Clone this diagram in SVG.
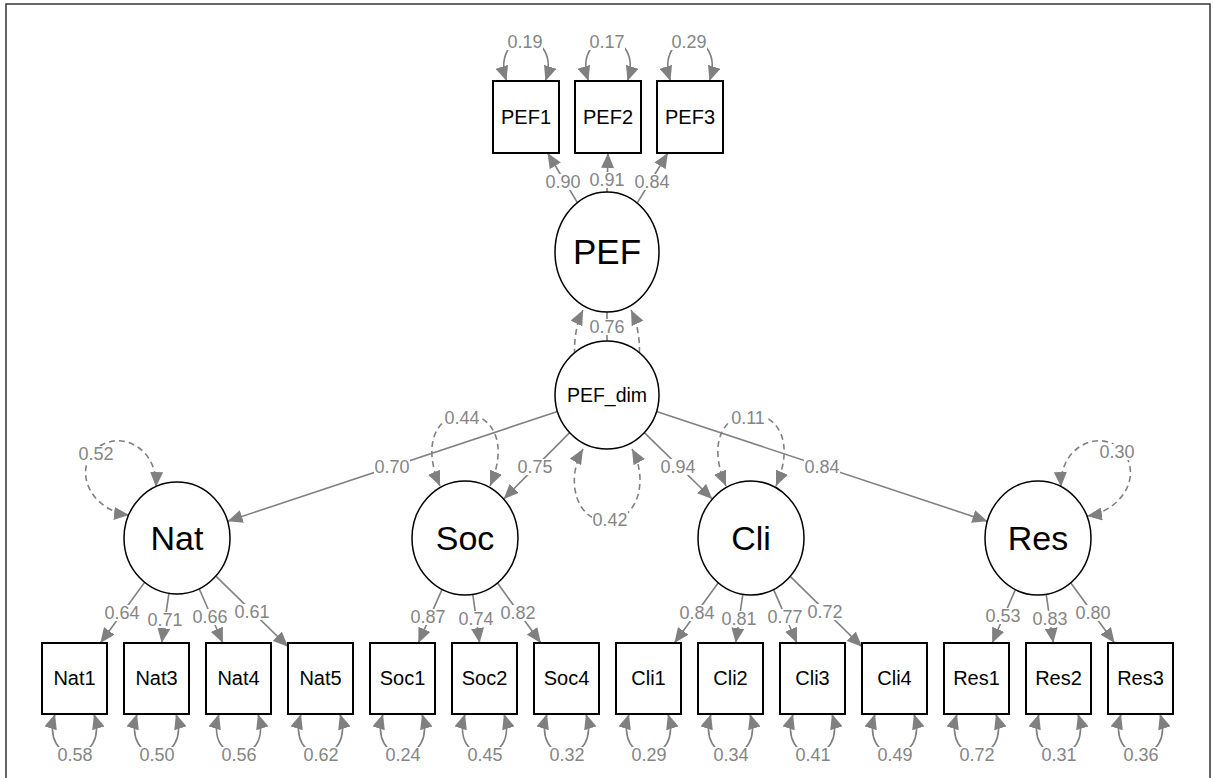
<svg xmlns="http://www.w3.org/2000/svg" width="1213" height="778" viewBox="0 0 1213 778">
<style>
.e{stroke:#808080;stroke-width:1.6;fill:none}
.a{marker-end:url(#ah)}
.b{marker-start:url(#ah);marker-end:url(#ah)}
.d{stroke-dasharray:6 4}
.lb{font-family:"Liberation Sans",Arial,sans-serif;font-size:18px;fill:#858585;text-anchor:middle}
.bg{fill:#fff}
.bx{fill:#fff;stroke:#000;stroke-width:2}
.ci{fill:#fff;stroke:#000;stroke-width:1.5}
.t{font-family:"Liberation Sans",Arial,sans-serif;fill:#000;text-anchor:middle}
.s{font-size:20px}
.L{font-size:34px}
</style>
<defs>
<marker id="ah" viewBox="0 0 15 13" refX="15" refY="6.5" markerWidth="15" markerHeight="13" markerUnits="userSpaceOnUse" orient="auto-start-reverse"><path d="M0,0 L15,6.5 L0,13 z" fill="#808080"/></marker>
</defs>
<rect width="1213" height="778" fill="#fff"/>
<path d="M6 790 L6 4 L1210 4 L1210 790" fill="none" stroke="#333" stroke-width="1.5"/>

<g id="connectors">
<path class="e b" d="M506.5 81 C498 55 511 40 526 40 C541 40 554 55 545.5 81"/>
<path class="e b" d="M588.5 81 C580 55 593 40 608 40 C623 40 636 55 627.5 81"/>
<path class="e b" d="M670.5 81 C662 55 675 40 690 40 C705 40 718 55 709.5 81"/>
<line class="e a" x1="577.4" y1="202.7" x2="547.6" y2="153"/>
<line class="e a" x1="607" y1="192" x2="608" y2="153"/>
<line class="e a" x1="637.1" y1="203.1" x2="667.9" y2="153"/>
<path class="e b d" d="M583 310 C566 345 575 400 607 400 C639 400 648 345 631 310"/>
<line class="e" x1="607" y1="312" x2="607" y2="341"/>
<path class="e b d" d="M583 449 C565 480 576 521 607 521 C638 521 649 480 632 449"/>
<line class="e a" x1="557.5" y1="411.5" x2="227.6" y2="521.2"/>
<line class="e a" x1="569.7" y1="432.6" x2="503.7" y2="499"/>
<line class="e a" x1="644.3" y1="432.6" x2="712.3" y2="499"/>
<line class="e a" x1="656.5" y1="411.5" x2="987.4" y2="521.2"/>
<path class="e b d" d="M156 487 C158 440 105 425 88 460 C78 485 100 512 129 515"/>
<path class="e b d" d="M440 486 C420 440 440 414 465 414 C490 414 510 440 490 486"/>
<path class="e b d" d="M726 486 C706 440 726 414 751 414 C776 414 796 440 776 486"/>
<path class="e b d" d="M1061 487 C1059 440 1112 425 1128 460 C1138 485 1116 512 1087 516"/>
<line class="e a" x1="144.6" y1="582.4" x2="100.4" y2="643"/>
<line class="e a" x1="168.9" y1="593.3" x2="161.7" y2="643"/>
<line class="e a" x1="199.2" y1="588.8" x2="222.9" y2="643"/>
<line class="e a" x1="215.9" y1="576.1" x2="288" y2="646.7"/>
<line class="e a" x1="442.1" y1="589.4" x2="418.3" y2="643"/>
<line class="e a" x1="472.8" y1="594.4" x2="479.6" y2="643"/>
<line class="e a" x1="497.5" y1="583" x2="540.8" y2="643"/>
<line class="e a" x1="718.3" y1="582.8" x2="674.4" y2="643"/>
<line class="e a" x1="742.8" y1="594.3" x2="735.7" y2="643"/>
<line class="e a" x1="773.6" y1="589.6" x2="797" y2="643"/>
<line class="e a" x1="790.2" y1="576.4" x2="862" y2="646.7"/>
<line class="e a" x1="1015.4" y1="589.6" x2="992.1" y2="643"/>
<line class="e a" x1="1046.2" y1="594.3" x2="1053.3" y2="643"/>
<line class="e a" x1="1070.7" y1="582.8" x2="1114.6" y2="643"/>
<path class="e b" d="M55 714 C47 740 60 754 74.5 754 C89 754 102 740 94 714"/>
<path class="e b" d="M137 714 C129 740 142 754 156.5 754 C171 754 184 740 176 714"/>
<path class="e b" d="M219 714 C211 740 224 754 238.5 754 C253 754 266 740 258 714"/>
<path class="e b" d="M301 714 C293 740 306 754 320.5 754 C335 754 348 740 340 714"/>
<path class="e b" d="M383 714 C375 740 388 754 402.5 754 C417 754 430 740 422 714"/>
<path class="e b" d="M465 714 C457 740 470 754 484.5 754 C499 754 512 740 504 714"/>
<path class="e b" d="M547 714 C539 740 552 754 566.5 754 C581 754 594 740 586 714"/>
<path class="e b" d="M629 714 C621 740 634 754 648.5 754 C663 754 676 740 668 714"/>
<path class="e b" d="M711 714 C703 740 716 754 730.5 754 C745 754 758 740 750 714"/>
<path class="e b" d="M793 714 C785 740 798 754 812.5 754 C827 754 840 740 832 714"/>
<path class="e b" d="M875 714 C867 740 880 754 894.5 754 C909 754 922 740 914 714"/>
<path class="e b" d="M957 714 C949 740 962 754 976.5 754 C991 754 1004 740 996 714"/>
<path class="e b" d="M1039 714 C1031 740 1044 754 1058.5 754 C1073 754 1086 740 1078 714"/>
<path class="e b" d="M1121 714 C1113 740 1126 754 1140.5 754 C1155 754 1168 740 1160 714"/>
</g>

<g id="edge-labels">
<rect class="bg" x="507" y="34" width="36" height="16"/><text class="lb" x="525" y="48">0.19</text>
<rect class="bg" x="589" y="34" width="36" height="16"/><text class="lb" x="607" y="48">0.17</text>
<rect class="bg" x="671" y="34" width="36" height="16"/><text class="lb" x="689" y="48">0.29</text>
<rect class="bg" x="545" y="174" width="36" height="16"/><text class="lb" x="563" y="188">0.90</text>
<rect class="bg" x="589" y="172" width="36" height="16"/><text class="lb" x="607" y="186">0.91</text>
<rect class="bg" x="634" y="174" width="36" height="16"/><text class="lb" x="652" y="188">0.84</text>
<rect class="bg" x="589" y="319" width="36" height="16"/><text class="lb" x="607" y="333">0.76</text>
<rect class="bg" x="374" y="459" width="36" height="16"/><text class="lb" x="392" y="473">0.70</text>
<rect class="bg" x="517" y="459" width="36" height="16"/><text class="lb" x="535" y="473">0.75</text>
<rect class="bg" x="660" y="459" width="36" height="16"/><text class="lb" x="678" y="473">0.94</text>
<rect class="bg" x="804" y="459" width="36" height="16"/><text class="lb" x="822" y="473">0.84</text>
<rect class="bg" x="78" y="446" width="36" height="16"/><text class="lb" x="96" y="460">0.52</text>
<rect class="bg" x="444" y="410" width="36" height="16"/><text class="lb" x="462" y="424">0.44</text>
<rect class="bg" x="730" y="410" width="36" height="16"/><text class="lb" x="748" y="424">0.11</text>
<rect class="bg" x="1099" y="444" width="36" height="16"/><text class="lb" x="1117" y="458">0.30</text>
<rect class="bg" x="592" y="512" width="36" height="16"/><text class="lb" x="610" y="526">0.42</text>
<rect class="bg" x="104" y="605" width="36" height="16"/><text class="lb" x="122" y="619">0.64</text>
<rect class="bg" x="147" y="612" width="36" height="16"/><text class="lb" x="165" y="626">0.71</text>
<rect class="bg" x="192" y="609" width="36" height="16"/><text class="lb" x="210" y="623">0.66</text>
<rect class="bg" x="234" y="604" width="36" height="16"/><text class="lb" x="252" y="618">0.61</text>
<rect class="bg" x="410" y="609" width="36" height="16"/><text class="lb" x="428" y="623">0.87</text>
<rect class="bg" x="458" y="611" width="36" height="16"/><text class="lb" x="476" y="625">0.74</text>
<rect class="bg" x="500" y="605" width="36" height="16"/><text class="lb" x="518" y="619">0.82</text>
<rect class="bg" x="679" y="605" width="36" height="16"/><text class="lb" x="697" y="619">0.84</text>
<rect class="bg" x="721" y="611" width="36" height="16"/><text class="lb" x="739" y="625">0.81</text>
<rect class="bg" x="767" y="609" width="36" height="16"/><text class="lb" x="785" y="623">0.77</text>
<rect class="bg" x="807" y="604" width="36" height="16"/><text class="lb" x="825" y="618">0.72</text>
<rect class="bg" x="985" y="608" width="36" height="16"/><text class="lb" x="1003" y="622">0.53</text>
<rect class="bg" x="1032" y="611" width="36" height="16"/><text class="lb" x="1050" y="625">0.83</text>
<rect class="bg" x="1075" y="605" width="36" height="16"/><text class="lb" x="1093" y="619">0.80</text>
<rect class="bg" x="57" y="747" width="36" height="16"/><text class="lb" x="75" y="761">0.58</text>
<rect class="bg" x="139" y="747" width="36" height="16"/><text class="lb" x="157" y="761">0.50</text>
<rect class="bg" x="221" y="747" width="36" height="16"/><text class="lb" x="239" y="761">0.56</text>
<rect class="bg" x="303" y="747" width="36" height="16"/><text class="lb" x="321" y="761">0.62</text>
<rect class="bg" x="385" y="747" width="36" height="16"/><text class="lb" x="403" y="761">0.24</text>
<rect class="bg" x="467" y="747" width="36" height="16"/><text class="lb" x="485" y="761">0.45</text>
<rect class="bg" x="549" y="747" width="36" height="16"/><text class="lb" x="567" y="761">0.32</text>
<rect class="bg" x="631" y="747" width="36" height="16"/><text class="lb" x="649" y="761">0.29</text>
<rect class="bg" x="713" y="747" width="36" height="16"/><text class="lb" x="731" y="761">0.34</text>
<rect class="bg" x="795" y="747" width="36" height="16"/><text class="lb" x="813" y="761">0.41</text>
<rect class="bg" x="877" y="747" width="36" height="16"/><text class="lb" x="895" y="761">0.49</text>
<rect class="bg" x="959" y="747" width="36" height="16"/><text class="lb" x="977" y="761">0.72</text>
<rect class="bg" x="1041" y="747" width="36" height="16"/><text class="lb" x="1059" y="761">0.31</text>
<rect class="bg" x="1123" y="747" width="36" height="16"/><text class="lb" x="1141" y="761">0.36</text>
</g>

<g id="PEF1"><rect class="bx" x="493" y="81" width="66" height="72"/><text class="t s" x="526" y="124">PEF1</text></g>
<g id="PEF2"><rect class="bx" x="575" y="81" width="66" height="72"/><text class="t s" x="608" y="124">PEF2</text></g>
<g id="PEF3"><rect class="bx" x="657" y="81" width="66" height="72"/><text class="t s" x="690" y="124">PEF3</text></g>

<g id="PEF"><ellipse class="ci" cx="607" cy="252" rx="52" ry="60"/><text class="t" style="font-size:35px" x="607" y="264">PEF</text></g>
<g id="PEF_dim"><ellipse class="ci" cx="607" cy="395" rx="52" ry="54"/><text class="t" style="font-size:19.5px" x="607" y="402">PEF_dim</text></g>

<g id="Nat"><ellipse class="ci" cx="177" cy="538" rx="53" ry="56"/><text class="t L" x="177" y="550">Nat</text></g>
<g id="Soc"><ellipse class="ci" cx="465" cy="538" rx="53" ry="57"/><text class="t L" x="465" y="550">Soc</text></g>
<g id="Cli"><ellipse class="ci" cx="751" cy="538" rx="53" ry="57"/><text class="t L" x="751" y="550">Cli</text></g>
<g id="Res"><ellipse class="ci" cx="1038" cy="538" rx="53" ry="57"/><text class="t L" x="1038" y="550">Res</text></g>

<g id="Nat1"><rect class="bx" x="42" y="643" width="65" height="71"/><text class="t s" x="74.5" y="685">Nat1</text></g>
<g id="Nat3"><rect class="bx" x="124" y="643" width="65" height="71"/><text class="t s" x="156.5" y="685">Nat3</text></g>
<g id="Nat4"><rect class="bx" x="206" y="643" width="65" height="71"/><text class="t s" x="238.5" y="685">Nat4</text></g>
<g id="Nat5"><rect class="bx" x="288" y="643" width="65" height="71"/><text class="t s" x="320.5" y="685">Nat5</text></g>
<g id="Soc1"><rect class="bx" x="370" y="643" width="65" height="71"/><text class="t s" x="402.5" y="685">Soc1</text></g>
<g id="Soc2"><rect class="bx" x="452" y="643" width="65" height="71"/><text class="t s" x="484.5" y="685">Soc2</text></g>
<g id="Soc4"><rect class="bx" x="534" y="643" width="65" height="71"/><text class="t s" x="566.5" y="685">Soc4</text></g>
<g id="Cli1"><rect class="bx" x="616" y="643" width="65" height="71"/><text class="t s" x="648.5" y="685">Cli1</text></g>
<g id="Cli2"><rect class="bx" x="698" y="643" width="65" height="71"/><text class="t s" x="730.5" y="685">Cli2</text></g>
<g id="Cli3"><rect class="bx" x="780" y="643" width="65" height="71"/><text class="t s" x="812.5" y="685">Cli3</text></g>
<g id="Cli4"><rect class="bx" x="862" y="643" width="65" height="71"/><text class="t s" x="894.5" y="685">Cli4</text></g>
<g id="Res1"><rect class="bx" x="944" y="643" width="65" height="71"/><text class="t s" x="976.5" y="685">Res1</text></g>
<g id="Res2"><rect class="bx" x="1026" y="643" width="65" height="71"/><text class="t s" x="1058.5" y="685">Res2</text></g>
<g id="Res3"><rect class="bx" x="1108" y="643" width="65" height="71"/><text class="t s" x="1140.5" y="685">Res3</text></g>
</svg>
